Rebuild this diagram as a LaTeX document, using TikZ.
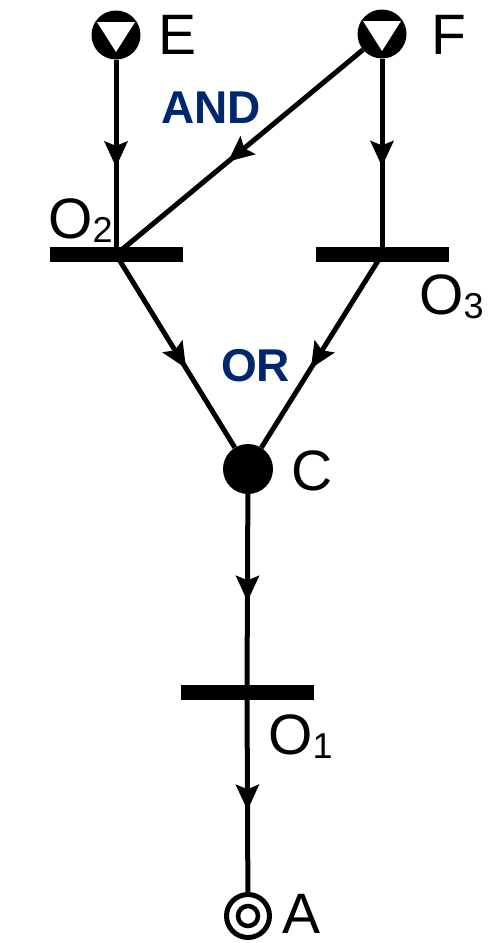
\documentclass[tikz,border=0pt]{standalone}
\usepackage{fontspec}
\setmainfont{Liberation Sans}
\usetikzlibrary{decorations.markings,calc}
\definecolor{navy}{RGB}{0,38,110}
\tikzset{
  conn/.style={line width=5pt, postaction={decorate},
    decoration={markings, mark=at position #1 with {\fill (2pt,0pt) -- (-24pt,12pt) -- (-19pt,0pt) -- (-24pt,-12pt) -- cycle;}}},
  bar/.style={fill=black, minimum width=133pt, minimum height=15pt, inner sep=0pt},
  source/.style={circle, fill=black, minimum size=49pt, inner sep=0pt},
  place/.style={circle, fill=black, minimum size=50pt, inner sep=0pt},
  sink/.style={circle, draw=black, line width=5pt, minimum size=43pt, inner sep=0pt},
  lbl/.style={font=\fontsize{57}{62}\selectfont, inner sep=0pt, anchor=base west},
  gate/.style={font=\fontsize{46}{50}\selectfont\bfseries, text=navy, inner sep=0pt, anchor=base west}
}
\newcommand{\subnum}[1]{\raisebox{-4pt}{\fontsize{36}{36}\selectfont #1}}
\begin{document}
\begin{tikzpicture}[x=1pt,y=-1pt]
\useasboundingbox (0,0) rectangle (489,943);
% nodes
\node[source] (E) at (116,35) {};
\node[source] (F) at (382,34) {};
\fill[white] ($(E)+(-19,-13)$) -- ($(E)+(19,-13)$) -- ($(E)+(0,17)$) -- cycle;
\fill[white] ($(F)+(-19,-13)$) -- ($(F)+(19,-13)$) -- ($(F)+(0,17)$) -- cycle;
\node[bar] (O2) at (116,254.5) {};
\node[bar] (O3) at (382,254.5) {};
\node[place] (C) at (248,469) {};
\node[bar] (O1) at (247,692.5) {};
\node[sink] (A) at (248,916) {};
\draw[line width=4.5pt] (A.center) circle (10pt);
% labels
\node[lbl] (lE) at (158,54) {E};
\node[lbl] (lF) at (431,54) {F};
\node[lbl] (lO2) at (48,238) {O\subnum{2}};
\node[lbl] (lO3) at (419,314) {O\subnum{3}};
\node[lbl] (lO1) at (268,754) {O\subnum{1}};
\node[lbl] (lC) at (291,490) {C};
\node[lbl] (lA) at (282,933) {A};
\node[gate] (and) at (161,123) {AND};
\node[gate] (or) at (221,381) {OR};
% connectors
\draw[conn=0.54] (E) -- (O2.center);
\draw[conn=0.54] (F) -- (O3.center);
\draw[conn=0.54] (F) -- (O2.center);
\draw[conn=0.58] (O2.center) -- (C);
\draw[conn=0.58] (O3.center) -- (C);
\draw[conn=0.53] (C) -- (O1.center);
\draw[conn=0.58] (O1.center) -- (A);
\end{tikzpicture}
\end{document}
